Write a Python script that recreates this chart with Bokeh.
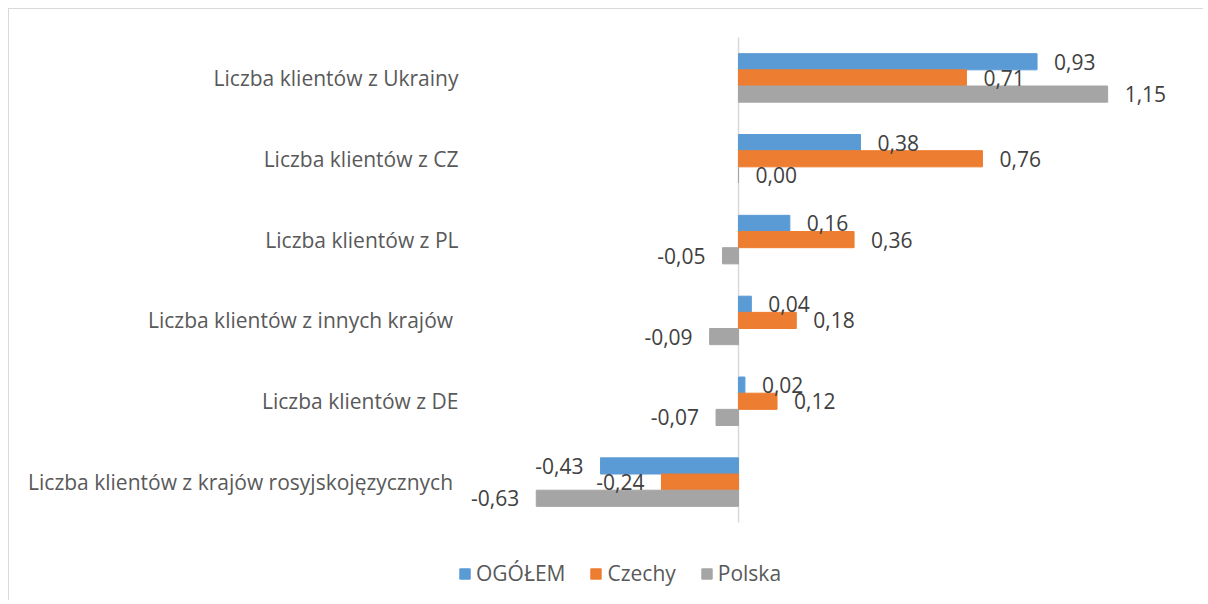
from bokeh.plotting import figure
from bokeh.models import ColumnDataSource, LabelSet, Legend, LegendItem, FixedTicker, Range1d
from bokeh.transform import dodge
from bokeh.core.properties import value
from bokeh.embed import file_html
from bokeh.resources import INLINE

categories = [
    "Liczba klientów z Ukrainy",
    "Liczba klientów z CZ",
    "Liczba klientów z PL",
    "Liczba klientów  z innych krajów",
    "Liczba klientów z DE",
    "Liczba klientów  z krajów rosyjskojęzycznych",
]
series_names = ["OGÓŁEM", "Czechy", "Polska"]
ogolem = [0.93, 0.38, 0.16, 0.04, 0.02, -0.43]
czechy = [0.71, 0.76, 0.36, 0.18, 0.12, -0.24]
polska = [1.15, 0.00, -0.05, -0.09, -0.07, -0.63]
colors = ["#5B9BD5", "#ED7D31", "#A5A5A5"]

FONT = "Open Sans"
FS = "21px"
n = len(categories)
ypos = [n - 1 - i for i in range(n)]  # first category at the top

p = figure(
    width=1195, height=592,
    x_range=Range1d(-0.8723, 1.4517),
    y_range=Range1d(-1.477, n - 0.5 + 0.3464),
    output_backend="svg", toolbar_location=None,
    min_border_left=449, min_border_right=0, min_border_top=0, min_border_bottom=0,
)
p.styles = {
    "margin-left": "8px", "margin-top": "8px",
    "border-left": "1px solid #D9D9D9", "border-top": "1px solid #D9D9D9",
}
p.outline_line_color = None
p.xgrid.visible = False
p.ygrid.visible = False
p.xaxis.visible = False

p.yaxis.ticker = FixedTicker(ticks=ypos)
p.yaxis.major_label_overrides = {y: c for y, c in zip(ypos, categories)}
p.yaxis.axis_line_color = None
p.yaxis.major_tick_line_color = None
p.yaxis.minor_tick_line_color = None
p.yaxis.major_tick_out = 0
p.yaxis.minor_tick_out = 0
p.yaxis.major_label_text_font = FONT
p.yaxis.major_label_text_font_size = FS
p.yaxis.major_label_text_color = "#595959"
p.yaxis.major_label_standoff = 0

# vertical zero axis line spanning the category area
p.segment(x0=[0], y0=[-0.5], x1=[0], y1=[n - 0.5], line_color="#D9D9D9", line_width=1.5)

offsets = [0.2, 0.0, -0.2]
renderers = []
for name, vals, col, off in zip(series_names, [ogolem, czechy, polska], colors, offsets):
    src = ColumnDataSource(dict(
        y=ypos,
        val=vals,
        lab=[f"{v:.2f}".replace(".", ",") for v in vals],
        align=["left" if v >= 0 else "right" for v in vals],
        xo=[17 if v >= 0 else -17 for v in vals],
    ))
    r = p.hbar(y=dodge("y", off), right="val", left=0, height=0.2, color=col, source=src)
    renderers.append(r)
    labels = LabelSet(x="val", y=dodge("y", off), text="lab", source=src,
                      text_align="align", x_offset="xo", text_baseline="middle",
                      text_font=value(FONT), text_font_size=FS, text_color="#404040")
    p.add_layout(labels)

legend = Legend(
    items=[LegendItem(label=nm, renderers=[r]) for nm, r in zip(series_names, renderers)],
    orientation="horizontal", location=(0, 14),
    border_line_color=None, background_fill_alpha=0,
    label_text_font=FONT, label_text_font_size=FS, label_text_color="#595959",
    glyph_width=13, glyph_height=13, label_standoff=5, spacing=24, padding=0, margin=0,
)
p.add_layout(legend, "center")

open("out.html", "w").write(file_html(p, INLINE))
